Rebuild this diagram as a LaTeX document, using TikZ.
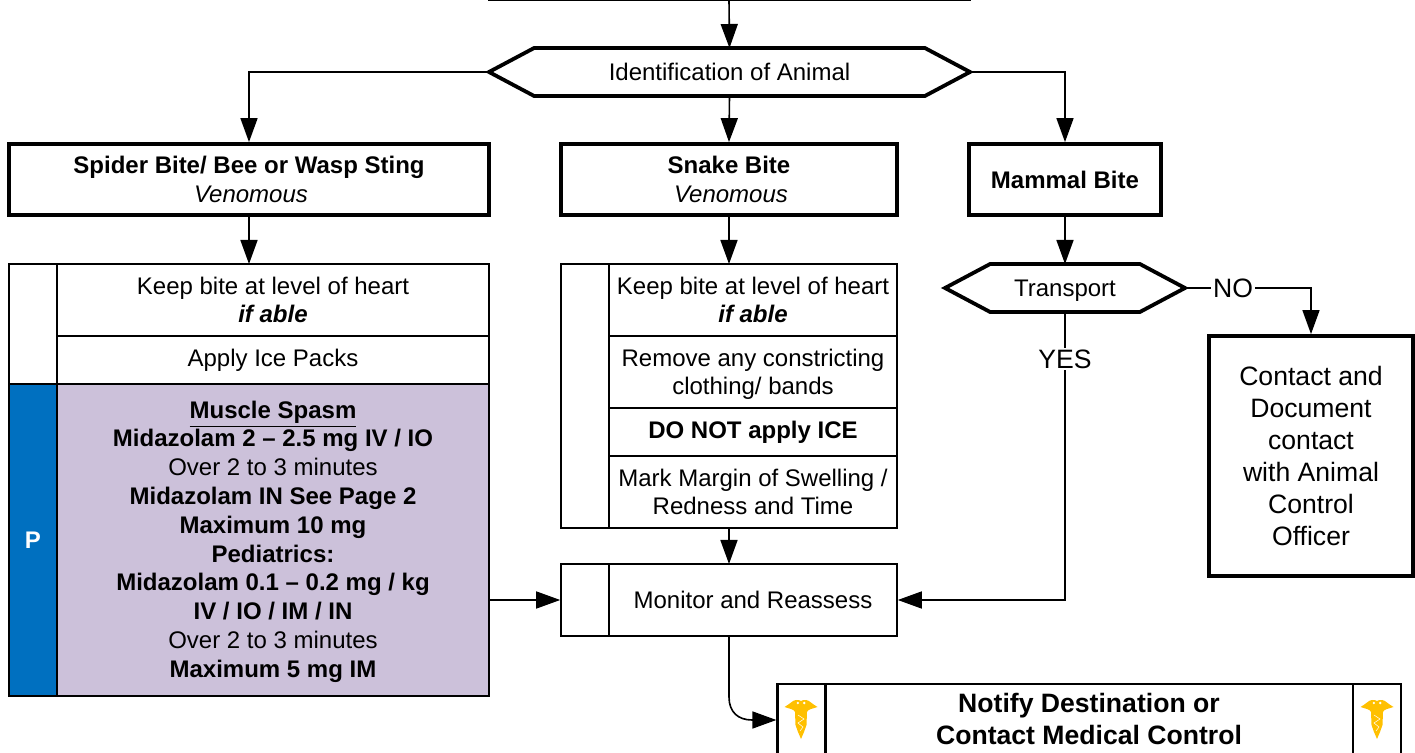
\documentclass[tikz,border=0pt]{standalone}
\usepackage{fontspec}
\setmainfont{Liberation Sans}
\usepackage{tikz}
\usetikzlibrary{arrows.meta,shapes.symbols}
\definecolor{lavender}{HTML}{CCC1DA}
\definecolor{pblue}{HTML}{0070C0}
\definecolor{gold}{HTML}{FFC000}
\tikzset{
	thinbox/.style={draw,line width=.8pt,inner sep=0pt,align=center,font=\fontsize{12}{14.4}\selectfont},
	thickbox/.style={draw,line width=1.9pt,inner sep=0pt,align=center,font=\fontsize{12}{14.4}\selectfont},
	hexbox/.style={thickbox,signal,signal to=west and east,signal pointer angle=56,minimum height=24pt,outer sep=0pt},
	arrow/.style={draw,line width=.8pt,-{Triangle[length=12pt,width=8.5pt]}},
	tag/.style={fill=white,inner sep=1pt,font=\fontsize{13.3}{16}\selectfont},
	caduceus/.pic={
		\fill[gold] (-16.5,-12) .. controls (-11,-15) and (-8,-19) .. (-5,-19) .. controls (-3,-19) and (-1,-19) .. (0,-18) .. controls (1,-19) and (3,-19) .. (5,-19) .. controls (8,-19) and (11,-15) .. (16.5,-12) .. controls (11,-10) and (7,-10) .. (6,-7) -- (5.5,6) -- (3,13) -- (0,20) -- (-3,13) -- (-5.5,6) -- (-6,-7) .. controls (-7,-10) and (-11,-10) .. (-16.5,-12) -- cycle;
		\fill[white] (-3.2,-16) circle (1.3) (3.2,-16) circle (1.3);
		\draw[white,line width=.25pt] (-3,-4) -- (3,0) -- (-3,4) -- (2,8) -- (-1,12);
	}
}
\begin{document}
\begin{tikzpicture}
				[x=.5pt,y=-.5pt]
				\useasboundingbox (0,0) rectangle (1415,753);
				\node[thinbox,minimum width=240.5pt,minimum height=40pt] (entry) at (729.5,-40) {};
				\node[hexbox,minimum width=240.5pt] (animal) at (729.5,72) {Identification of Animal};
				
				\node[thickbox,minimum width=240pt,minimum height=35.5pt] (spider) at (249,179.5) {\textbf{Spider Bite/ Bee or Wasp Sting}\\\hspace*{2pt}\textit{Venomous}};
				\node[thickbox,minimum width=168pt,minimum height=35.5pt] (snake) at (729,179.5) {\textbf{Snake Bite}\\\hspace*{2pt}\textit{Venomous}};
				\node[thickbox,minimum width=96pt,minimum height=35.5pt] (mammal) at (1065,179.5) {\textbf{Mammal Bite}};
				
				\node[thinbox,minimum width=24pt,minimum height=60pt] (spidertab) at (33,324) {};
				\node[thinbox,minimum width=216pt,minimum height=36pt] (spiderkeep) at (273,300) {Keep bite at level of heart\\\textbf{\textit{if able}}};
				\node[thinbox,minimum width=216pt,minimum height=24pt] (spiderice) at (273,360) {Apply Ice Packs};
				\node[thinbox,fill=pblue,text=white,minimum width=24pt,minimum height=156pt] (ptab) at (33,540) {\textbf{P}};
				\node[thinbox,fill=lavender,minimum width=216pt,minimum height=156pt] (spasm) at (273,540) {\rule{0pt}{10.3pt}\textbf{\underline{Muscle Spasm}}\\\textbf{Midazolam 2 – 2.5 mg IV / IO}\\Over 2 to 3 minutes\\\textbf{Midazolam IN See Page 2}\\\textbf{Maximum 10 mg}\\\textbf{Pediatrics:}\\\textbf{Midazolam 0.1 – 0.2 mg / kg}\\\textbf{IV / IO / IM / IN}\\Over 2 to 3 minutes\\\textbf{Maximum 5 mg IM}};
				
				\node[thinbox,minimum width=24pt,minimum height=132pt] (snaketab) at (585,396) {};
				\node[thinbox,minimum width=144pt,minimum height=36pt] (snakekeep) at (753,300) {Keep bite at level of heart\\\textbf{\textit{if able}}};
				\node[thinbox,minimum width=144pt,minimum height=36pt] (snakeband) at (753,372) {\rule{0pt}{11pt}Remove any constricting\\clothing/ bands};
				\node[thinbox,minimum width=144pt,minimum height=24pt] (snakeice) at (753,432) {\textbf{DO NOT apply ICE}};
				\node[thinbox,minimum width=144pt,minimum height=36pt] (snakemark) at (753,492) {Mark Margin of Swelling /\\Redness and Time};
				
				\node[thinbox,minimum width=24pt,minimum height=36pt] (monitortab) at (585,600) {};
				\node[thinbox,minimum width=144pt,minimum height=36pt] (monitor) at (753,600) {Monitor and Reassess};
				
				\node[hexbox,minimum width=120pt] (transport) at (1065,288) {\rule{0pt}{11pt}Transport};
				\node[thickbox,minimum width=102pt,minimum height=120pt,font=\fontsize{13.3}{16}\selectfont] (contact) at (1311,456) {Contact and\\Document\\contact\\with Animal\\Control\\Officer};
				
				\node[thinbox,line width=1.1pt,minimum width=24pt,minimum height=36pt] (notifyleft) at (801.5,720) {};
				\node[thinbox,line width=1.1pt,minimum width=264pt,minimum height=36pt] (notify) at (1089,720) {};
				\node[thinbox,line width=1.1pt,minimum width=24pt,minimum height=36pt] (notifyright) at (1377,720) {};
				\node[font=\fontsize{13.3}{16}\selectfont\bfseries,align=center,inner sep=0pt] (notifytext) at (1089,719) {Notify Destination or\\Contact Medical Control};
				\pic at (801,719) {caduceus};
				\pic at (1377,719) {caduceus};
				
				\coordinate (spiderin) at (249,264);
				\coordinate (snakein) at (729,264);
				\coordinate (snakeout) at (729,528);
				\coordinate (monitorin) at (729,564);
				\coordinate (spasmout) at (489,600);
				\coordinate (monitorout) at (729,636);
				\coordinate (entryout) at (729,0);
				\coordinate (yesbend) at (1065,600);
				\coordinate (nobend) at (1311,288);
				
				\draw[arrow] (entryout) -- (animal.north);
				\draw[arrow] (animal.west) -| (spider.north);
				\draw[arrow] (animal.east) -| (mammal.north);
				\foreach \from/\to in {animal/snake,mammal/transport}
				\draw[arrow] (\from.south) -- (\to.north);
				\foreach \from/\to in {spider.south/spiderin,snake.south/snakein,snakeout/monitorin,spasmout/monitortab.west}
				\draw[arrow] (\from) -- (\to);
				\draw[arrow] (transport.south) -- (yesbend) -- (monitor.east);
				\draw[arrow] (transport.east) -- (nobend) -- (contact.north);
				\draw[arrow] (monitorout) -- (729,697) .. controls (729,712) and (738,720) .. (752,720) -- (notifyleft.west);
				\node[tag] (yes) at (1065,359) {YES};
				\node[tag] (no) at (1233,288) {NO};
				\end{tikzpicture}
\end{document}
